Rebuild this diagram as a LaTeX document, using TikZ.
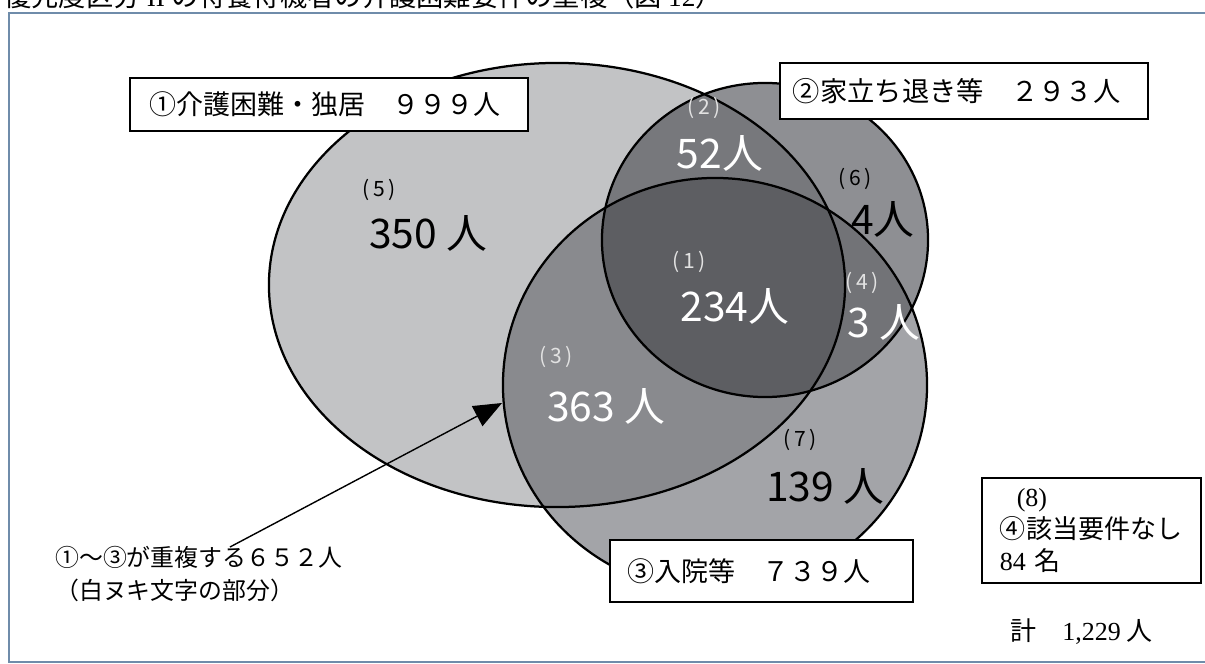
\documentclass[tikz,border=0pt]{standalone}
\usepackage{fontspec}
\setmainfont{Noto Sans CJK JP}
\newfontfamily\lserif{Liberation Serif}
\usetikzlibrary{arrows.meta}
\definecolor{frameblue}{HTML}{6F8CAA}
\definecolor{cA}{HTML}{C2C3C5}
\definecolor{cB}{HTML}{8E8F93}
\definecolor{cC}{HTML}{A3A4A8}
\definecolor{cAB}{HTML}{77787C}
\definecolor{cAC}{HTML}{898A8E}
\definecolor{cBC}{HTML}{727377}
\definecolor{cABC}{HTML}{5D5E62}
\definecolor{lbl}{HTML}{E2E2E2}
\def\ellA{(557,285) ellipse [x radius=7.2cm, y radius=5.55cm]}
\def\ellB{(765,240) ellipse [x radius=4.075cm, y radius=3.925cm]}
\def\ellC{(715,385) ellipse [x radius=5.3cm, y radius=5.175cm]}
\begin{document}
\begin{tikzpicture}[x=0.025cm,y=-0.025cm,
  venn/.style={line width=1.6pt, draw=black},
  lblbox/.style={draw=black, line width=1.7pt, fill=white, inner ysep=0pt, align=left},
  bigw/.style={text=white, font=\fontsize{29}{30}\selectfont, inner sep=0pt},
  bigk/.style={text=black, font=\fontsize{29}{30}\selectfont, inner sep=0pt},
  smw/.style={text=lbl, font=\fontsize{15}{16}\selectfont, inner sep=0pt},
  smk/.style={text=black, font=\fontsize{15}{16}\selectfont, inner sep=0pt},
  jtext/.style={font=\fontsize{17}{20}\selectfont, inner sep=0pt, anchor=west},
]
\useasboundingbox (0,0) rectangle (1205,664);
\fill[white] (0,0) rectangle (1205,664);
\node[anchor=base west, inner sep=0pt, font=\fontsize{19.4}{22}\selectfont] (title) at (4,6) {優先度区分 {\lserif II} の特養待機者の介護困難要件の重複（図 {\lserif 12}）};
\draw[frameblue, line width=1.8pt] (9,13) rectangle (1240,662);
% Venn fills
\fill[cA] \ellA;
\fill[cB] \ellB;
\fill[cC] \ellC;
\begin{scope}
  \clip \ellA;
  \fill[cAB] \ellB;
  \fill[cAC] \ellC;
\end{scope}
\begin{scope}
  \clip \ellB;
  \fill[cBC] \ellC;
\end{scope}
\begin{scope}
  \clip \ellA;
  \clip \ellB;
  \fill[cABC] \ellC;
\end{scope}
\draw[venn] \ellA;
\draw[venn] \ellB;
\draw[venn] \ellC;
% label boxes
\node[lblbox, minimum width=9.95cm, minimum height=1.325cm, inner xsep=0.5cm, text width=8.95cm, font=\fontsize{19.2}{22}\selectfont] (box1) at (329,104.5) {①介護困難・独居　９９９人};
\node[lblbox, minimum width=9.2cm, minimum height=1.4cm, inner xsep=0.325cm, text width=8.55cm, font=\fontsize{19.4}{22}\selectfont] (box2) at (964,91) {②家立ち退き等　２９３人};
\node[lblbox, minimum width=7.575cm, minimum height=1.55cm, inner xsep=0.45cm, text width=6.675cm, font=\fontsize{19.2}{22}\selectfont] (box3) at (761.5,571) {③入院等　７３９人};
\node[lblbox, minimum width=5.475cm, minimum height=2.625cm, inner xsep=0.45cm, text width=4.575cm, font=\fontsize{18.5}{22.8}\selectfont] (box8) at (1091.5,530.5) {\hspace*{0.42cm}{\lserif (8)}\\④該当要件なし\\{\lserif 84} 名};
\node[anchor=west, inner sep=0pt, font=\fontsize{18.5}{22}\selectfont] (total) at (1010,632) {計　{\lserif 1,229} 人};
% region labels
\node[smk] (n5) at (379,190) {(\,5\,)};
\node[bigk] (v5) at (428,233) {350 人};
\node[smw] (n2) at (704,108) {(\,2\,)};
\node[bigw] (v2) at (720,153) {52人};
\node[smk] (n6) at (855,179) {(\,6\,)};
\node[bigk] (v6) at (883,219) {4人};
\node[smw] (n1) at (689,262) {(\,1\,)};
\node[bigw] (v1) at (735,306) {234人};
\node[smw] (n4) at (862,283) {(\,4\,)};
\node[bigw] (v4) at (884,322) {3 人};
\node[smw] (n3) at (556,357) {(\,3\,)};
\node[bigw] (v3) at (606,406) {363 人};
\node[smk] (n7) at (800,440) {(\,7\,)};
\node[bigk] (v7) at (825,486) {139 人};
% note and arrow
\node[jtext] (note1) at (55,557) {①～③が重複する６５２人};
\node[jtext] (note2) at (55,590) {（白ヌキ文字の部分）};
\coordinate (arrowstart) at (230,547);
\coordinate (arrowtip) at (502,403);
\draw[line width=1pt, -{Triangle[length=20pt,width=16pt]}] (arrowstart) -- (arrowtip);
\end{tikzpicture}
\end{document}
